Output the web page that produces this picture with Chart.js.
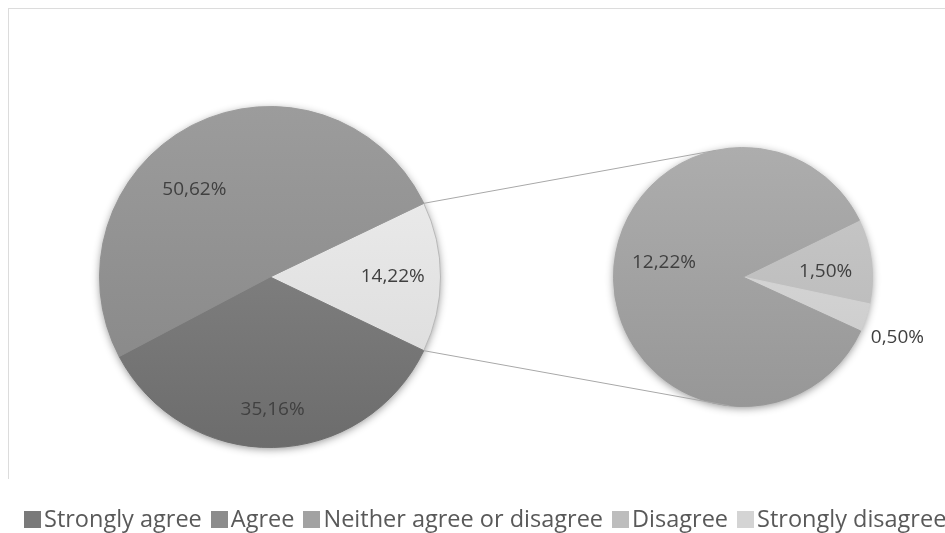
<!DOCTYPE html>
<html><head><meta charset="utf-8">
<script src="https://cdn.jsdelivr.net/npm/chart.js@4/dist/chart.umd.min.js"></script>
<style>
html,body{margin:0;padding:0;background:#fff;}
#wrap{position:relative;width:945px;height:533px;overflow:hidden;background:#fff;}
#frame{position:absolute;left:8px;top:8px;width:960px;height:470px;border-top:1px solid #dcdcdc;border-left:1px solid #dcdcdc;}
canvas{position:absolute;left:0;top:0;}
#legend{position:absolute;left:24px;top:503px;white-space:nowrap;font:23.5px "Open Sans",sans-serif;color:#595959;line-height:30px;}
.item{display:inline-block;margin-right:9px;}
.sw{display:inline-block;width:17px;height:17px;margin-right:3px;vertical-align:-1px;}
</style></head>
<body>
<div id="wrap">
  <div id="frame"></div>
  <canvas id="left" width="945" height="533"></canvas>
  <canvas id="right" width="945" height="533"></canvas>
  <div id="legend"></div>
</div>
<script>
// ---- data ----
const legendLabels = ['Strongly agree', 'Agree', 'Neither agree or disagree', 'Disagree', 'Strongly disagree'];
const mainLabels = ['Other', 'Strongly agree', 'Agree'];
const mainValues = [14.22, 35.16, 50.62];
const subLabels = ['Disagree', 'Strongly disagree', 'Neither agree or disagree'];
const subValues = [1.50, 0.50, 12.22];

// ---- styles ----
const legendColors = ['#7a7a7a', '#8c8c8c', '#a2a2a2', '#bdbdbd', '#d4d4d4'];
const mainTop = ['#f0f0f0', '#8e8e8e', '#9c9c9c'];
const mainBottom = ['#d8d8d8', '#6c6c6c', '#848484'];
const subTop = ['#cacaca', '#dedede', '#adadad'];
const subBottom = ['#b6b6b6', '#c8c8c8', '#979797'];
const mainLabelPos = [{a: 0, r: 0.72}, {a: 0, r: 0.78}, {a: -14, r: 0.68}];
const subLabelPos = [{a: 3, r: 0.64}, {a: 3, r: 1.28}, {a: 11, r: 0.62}];

function grad(tops, bottoms) {
  return (ctx) => {
    const chart = ctx.chart, a = chart.chartArea;
    const i = ctx.dataIndex;
    if (!a) return tops[i];
    const g = chart.ctx.createLinearGradient(0, a.top, 0, a.bottom);
    g.addColorStop(0, tops[i]);
    g.addColorStop(1, bottoms[i]);
    return g;
  };
}

const fmt = v => v.toFixed(2).replace('.', ',') + '%';

const shadowPlugin = {
  id: 'pieShadow',
  beforeDatasetsDraw(chart) {
    const arc = chart.getDatasetMeta(0).data[0];
    if (!arc) return;
    const c = chart.ctx;
    c.save();
    c.shadowColor = 'rgba(0,0,0,0.45)';
    c.shadowBlur = 9;
    c.shadowOffsetY = 2;
    c.fillStyle = '#999';
    c.beginPath();
    c.arc(arc.x, arc.y, arc.outerRadius - 0.5, 0, Math.PI * 2);
    c.fill();
    c.restore();
  }
};

const labelPlugin = {
  id: 'sliceLabels',
  afterDatasetsDraw(chart, args, opts) {
    const meta = chart.getDatasetMeta(0);
    const vals = chart.data.datasets[0].data;
    const c = chart.ctx;
    c.save();
    c.font = '19px "Open Sans", sans-serif';
    c.fillStyle = '#404040';
    c.textAlign = 'center';
    c.textBaseline = 'middle';
    meta.data.forEach((arc, i) => {
      const p = opts.pos[i];
      const mid = (arc.startAngle + arc.endAngle) / 2 + p.a * Math.PI / 180;
      const r = arc.outerRadius * p.r;
      c.fillText(fmt(vals[i]), arc.x + Math.cos(mid) * r, arc.y + Math.sin(mid) * r);
    });
    c.restore();
  }
};

const otherShare = mainValues[0];
const leftChart = new Chart(document.getElementById('left'), {
  type: 'pie',
  data: {
    labels: mainLabels,
    datasets: [{
      data: mainValues,
      backgroundColor: grad(mainTop, mainBottom),
      borderColor: (ctx) => ctx.dataIndex === 0 ? '#b8b8b8' : grad(mainTop, mainBottom)(ctx),
      borderWidth: 1
    }]
  },
  options: {
    responsive: false,
    animation: false,
    rotation: 90 - otherShare / 100 * 180,
    layout: {padding: {left: 99, right: 504, top: 106, bottom: 85}},
    plugins: {
      legend: {display: false},
      tooltip: {enabled: false},
      sliceLabels: {pos: mainLabelPos}
    }
  },
  plugins: [shadowPlugin, labelPlugin]
});

const connectorPlugin = {
  id: 'connectors',
  afterDatasetsDraw(chart) {
    const la = leftChart.getDatasetMeta(0).data[0];
    const ra = chart.getDatasetMeta(0).data[0];
    if (!la || !ra) return;
    const c = chart.ctx;
    const R = la.outerRadius, r = ra.outerRadius;
    const p1 = [la.x + Math.cos(la.startAngle) * R, la.y + Math.sin(la.startAngle) * R];
    const p2 = [la.x + Math.cos(la.endAngle) * R, la.y + Math.sin(la.endAngle) * R];
    const t1 = -102 * Math.PI / 180, t2 = 96 * Math.PI / 180;
    const q1 = [ra.x + Math.cos(t1) * r, ra.y + Math.sin(t1) * r];
    const q2 = [ra.x + Math.cos(t2) * r, ra.y + Math.sin(t2) * r];
    c.save();
    c.strokeStyle = '#a8a8a8';
    c.lineWidth = 1;
    c.beginPath();
    c.moveTo(p1[0], p1[1]); c.lineTo(q1[0], q1[1]);
    c.moveTo(p2[0], p2[1]); c.lineTo(q2[0], q2[1]);
    c.stroke();
    c.restore();
  }
};

new Chart(document.getElementById('right'), {
  type: 'pie',
  data: {
    labels: subLabels,
    datasets: [{
      data: subValues,
      backgroundColor: grad(subTop, subBottom),
      borderColor: grad(subTop, subBottom),
      borderWidth: 1
    }]
  },
  options: {
    responsive: false,
    animation: false,
    rotation: 64,
    layout: {padding: {left: 613, right: 72, top: 147, bottom: 126}},
    plugins: {
      legend: {display: false},
      tooltip: {enabled: false},
      sliceLabels: {pos: subLabelPos}
    }
  },
  plugins: [shadowPlugin, labelPlugin, connectorPlugin]
});

// legend
const lg = document.getElementById('legend');
legendLabels.forEach((t, i) => {
  const s = document.createElement('span');
  s.className = 'item';
  const sw = document.createElement('span');
  sw.className = 'sw';
  sw.style.background = legendColors[i];
  s.appendChild(sw);
  s.appendChild(document.createTextNode(t));
  lg.appendChild(s);
});
</script>
</body></html>
